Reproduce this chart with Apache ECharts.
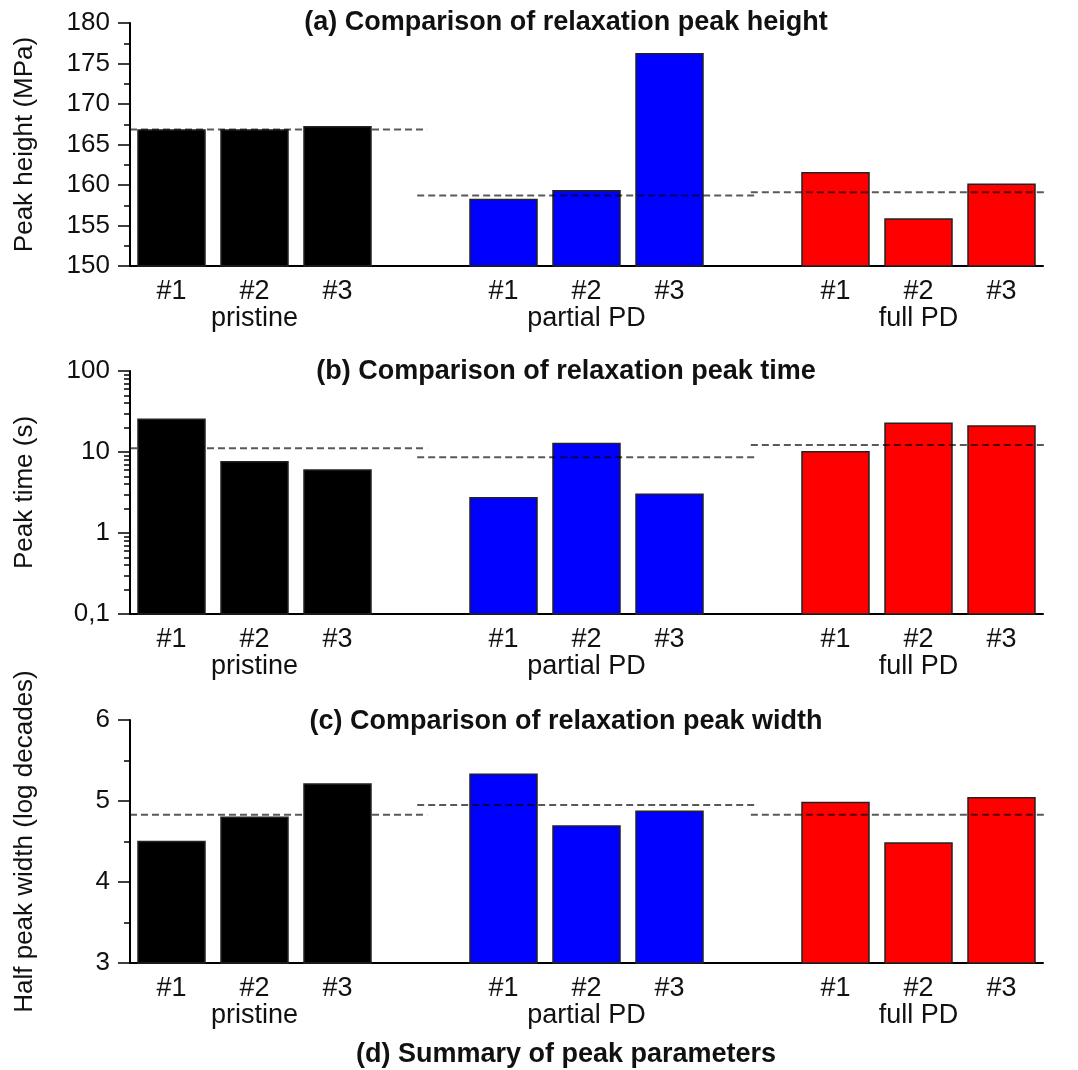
<!DOCTYPE html>
<html>
<head>
<meta charset="utf-8">
<script src="https://cdn.jsdelivr.net/npm/echarts@6/dist/echarts.min.js"></script>
<style>
  html, body { margin: 0; padding: 0; background: #fff; }
  #chart { width: 1078px; height: 1070px; }
</style>
</head>
<body>
<div id="chart"></div>
<script>
// Sample labels and sample groups (three samples per group)
const sampleLabels = ['#1', '#2', '#3'];
const groupNames = ['pristine', 'partial PD', 'full PD'];
const groupColors = ['#000000', '#0000ff', '#ff0000'];

// (a) relaxation peak height, MPa
const peakHeight = [166.8, 166.8, 167.2, 158.2, 159.3, 176.2, 161.5, 155.8, 160.1];
const peakHeightRef = [166.85, 158.7, 159.1];

// (b) relaxation peak time, s
const peakTime = [25.3, 7.6, 6.0, 2.73, 12.7, 3.0, 10.1, 22.6, 20.9];
const peakTimeRef = [11.1, 8.6, 12.2];

// (c) half peak width, log decades
const peakWidth = [4.50, 4.80, 5.21, 5.33, 4.69, 4.875, 4.98, 4.48, 5.04];
const peakWidthRef = [4.83, 4.95, 4.83];

// Axis tick values
const heightTicks = [150, 155, 160, 165, 170, 175, 180];
const timeTicks = [0.1, 1, 10, 100];
const widthTicks = [3, 4, 5, 6];

// Horizontal extent (in slot units) of each group's reference line
const refSpans = [[-0.5, 3.08], [2.96, 7.02], [6.98, 10.95]];

const FONT = '"Liberation Sans", Arial, sans-serif';
const INK = '#111';
const BAR_W = 67;

// 11 slots: three bars per group with an empty slot between groups
const categories = [];
const slotOf = [];   // slot index of each sample
const groupOf = [];  // group index of each sample
groupNames.forEach((g, gi) => {
  sampleLabels.forEach((s, i) => {
    slotOf.push(categories.length);
    groupOf.push(gi);
    categories.push(i === 1 ? s + '\n' + g : s);
  });
  if (gi < groupNames.length - 1) categories.push('');
});

function minorValues(major, log) {
  const out = [];
  if (log) {
    for (let d = 0; d < major.length - 1; d++) {
      for (let k = 2; k <= 9; k++) out.push(+(k * major[d]).toPrecision(6));
    }
  } else {
    for (let d = 0; d < major.length - 1; d++) out.push((major[d] + major[d + 1]) / 2);
  }
  return out;
}

const gridTops = [23, 371, 720];
const PLOT_H = 243;

const grids = gridTops.map(t => ({ left: 130, top: t, width: 913, height: PLOT_H, containLabel: false }));

const xAxes = [];
gridTops.forEach((t, gi) => {
  xAxes.push({
    type: 'category', gridIndex: gi, data: categories, boundaryGap: true,
    axisLine: { show: true, onZero: false, lineStyle: { color: '#000', width: 2 } },
    axisTick: { show: false },
    axisLabel: { interval: 0, margin: 12, fontFamily: FONT, fontSize: 27, lineHeight: 27, color: INK },
    splitLine: { show: false }
  });
  xAxes.push({ type: 'value', gridIndex: gi, min: -0.5, max: 10.5, show: false, axisLine: { onZero: false } });
});

const panels = [
  { name: 'Peak height (MPa)', type: 'value', ticks: heightTicks, interval: 5, values: peakHeight, refs: peakHeightRef, log: false },
  { name: 'Peak time (s)', type: 'log', ticks: timeTicks, values: peakTime, refs: peakTimeRef, log: true },
  { name: 'Half peak width (log decades)', type: 'value', ticks: widthTicks, interval: 1, values: peakWidth, refs: peakWidthRef, log: false }
];

const yAxes = [];
const series = [];
panels.forEach((p, gi) => {
  const lo = p.ticks[0], hi = p.ticks[p.ticks.length - 1];
  const major = {
    type: p.type, gridIndex: gi, min: lo, max: hi,
    name: p.name, nameLocation: 'middle', nameGap: 92, nameRotate: 90,
    nameTextStyle: { fontFamily: FONT, fontSize: 26, color: INK },
    axisLine: { show: true, onZero: false, lineStyle: { color: '#000', width: 2 } },
    axisTick: { show: true, length: 12, lineStyle: { color: '#000', width: 1.5 } },
    axisLabel: {
      margin: 20, fontFamily: FONT, fontSize: 26, color: INK,
      formatter: v => String(+v.toPrecision(6)).replace('.', ',')
    },
    splitLine: { show: false }
  };
  if (p.log) { major.logBase = 10; } else { major.interval = p.interval; }
  yAxes.push(major);
  const minor = {
    type: p.type, gridIndex: gi, min: lo, max: hi, position: 'left',
    axisLine: { show: false, onZero: false },
    axisLabel: { show: false },
    axisTick: { show: true, length: 6, customValues: minorValues(p.ticks, p.log), lineStyle: { color: '#000', width: 1.5 } },
    splitLine: { show: false }
  };
  if (p.log) minor.logBase = 10;
  yAxes.push(minor);

  // bars rise from the bottom of the value axis (works for linear and log axes)
  series.push({
    type: 'custom', xAxisIndex: gi * 2, yAxisIndex: gi * 2,
    data: p.values.map((v, i) => [slotOf[i], v, groupOf[i]]),
    encode: { x: 0, y: 1 },
    silent: true, z: 2,
    renderItem: (params, api) => {
      const top = api.coord([api.value(0), api.value(1)]);
      const base = api.coord([api.value(0), lo]);
      return {
        type: 'rect',
        shape: { x: top[0] - BAR_W / 2, y: top[1], width: BAR_W, height: base[1] - top[1] },
        style: { fill: groupColors[api.value(2)], stroke: '#222', lineWidth: 1.5 }
      };
    }
  });
  p.refs.forEach((r, k) => {
    series.push({
      type: 'line', xAxisIndex: gi * 2 + 1, yAxisIndex: gi * 2,
      data: [[refSpans[k][0], r], [refSpans[k][1], r]],
      symbol: 'none', clip: false, silent: true, z: 5,
      lineStyle: { color: 'rgba(0,0,0,0.65)', width: 2, type: [7, 4] }
    });
  });
});

const titles = [
  { text: '(a) Comparison of relaxation peak height', y: 23 },
  { text: '(b) Comparison of relaxation peak time', y: 372 },
  { text: '(c) Comparison of relaxation peak width', y: 722 },
  { text: '(d) Summary of peak parameters', y: 1055 }
];

const chart = echarts.init(document.getElementById('chart'), null, { renderer: 'canvas' });
chart.setOption({
  backgroundColor: '#fff',
  animation: false,
  grid: grids,
  xAxis: xAxes,
  yAxis: yAxes,
  series: series,
  graphic: titles.map(t => ({
    type: 'text', x: 566, y: t.y, z: 10,
    style: { text: t.text, font: 'bold 27px ' + FONT, fill: INK, align: 'center', verticalAlign: 'middle' }
  }))
});
</script>
</body>
</html>
